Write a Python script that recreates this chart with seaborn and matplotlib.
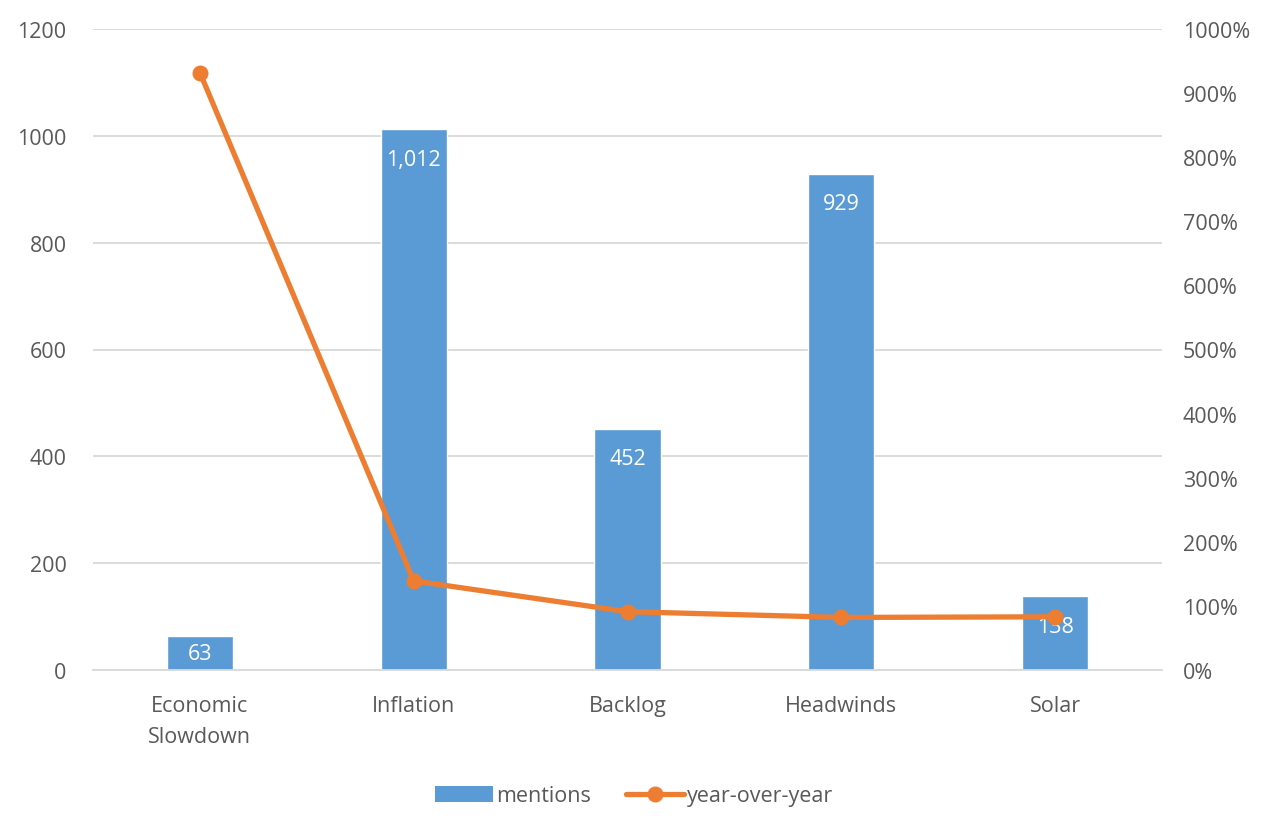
import matplotlib
matplotlib.use("Agg")
import matplotlib.pyplot as plt
import seaborn as sns
import pandas as pd
from matplotlib.ticker import FuncFormatter, MultipleLocator
from matplotlib.patches import Patch
from matplotlib.lines import Line2D

categories = ["Economic\nSlowdown", "Inflation", "Backlog", "Headwinds", "Solar"]
mentions = [63, 1012, 452, 929, 138]
yoy_pct = [932, 139, 91, 82, 83]

BLUE = "#5B9BD5"
ORANGE = "#ED7D31"
GRAY = "#595959"
GRID = "#D9D9D9"
FS = 15.5

sns.set_theme(style="white")
plt.rcParams["font.family"] = ["Open Sans", "DejaVu Sans"]

df = pd.DataFrame({"category": categories, "mentions": mentions, "yoy": yoy_pct})

fig = plt.figure(figsize=(12.69, 8.28), dpi=100)
ax = fig.add_axes([93/1269, 1-671/828, (1162-93)/1269, (671-30)/828])

sns.barplot(data=df, x="category", y="mentions", color=BLUE, width=0.31,
            saturation=1, ax=ax, zorder=2)
ax.set_ylim(0, 1200)
ax.set_xlim(-0.5, 4.5)
ax.yaxis.set_major_locator(MultipleLocator(200))
ax.grid(axis="y", color=GRID, linewidth=1.3, zorder=0)
ax.set_axisbelow(True)
for s in ["top", "right", "left"]:
    ax.spines[s].set_visible(False)
ax.spines["bottom"].set_color(GRID)
ax.spines["bottom"].set_linewidth(1.3)
ax.set_xlabel("")
ax.set_ylabel("")
ax.tick_params(axis="both", length=0, labelsize=FS, labelcolor=GRAY)
ax.tick_params(axis="x", pad=18)
ax.tick_params(axis="y", pad=19)
for t in ax.get_xticklabels():
    t.set_linespacing(1.6)

# data labels inside end
fig.canvas.draw()
for i, v in enumerate(mentions):
    y0 = ax.transData.transform((i, 0))[1]
    y1 = ax.transData.transform((i, v))[1]
    h = y1 - y0
    off = min(30, h / 2)
    ax.annotate(f"{v:,}", xy=(i, v), xytext=(0, -off * 72 / 100),
                textcoords="offset points", ha="center", va="center",
                color="white", fontsize=FS, zorder=5)

ax2 = ax.twinx()
sns.lineplot(x=list(range(len(categories))), y=yoy_pct, ax=ax2, color=ORANGE,
             linewidth=3.8, marker="o", markersize=11.5, markeredgewidth=0,
             zorder=4)
ax2.set_ylim(0, 1000)
ax2.yaxis.set_major_locator(MultipleLocator(100))
ax2.yaxis.set_major_formatter(FuncFormatter(lambda v, p: f"{int(v)}%"))
for s in ["top", "right", "left", "bottom"]:
    ax2.spines[s].set_visible(False)
ax2.tick_params(axis="y", length=0, labelsize=FS, labelcolor=GRAY, pad=15)
ax2.grid(False)

handles = [Patch(facecolor=BLUE, edgecolor="none"),
           Line2D([0], [0], color=ORANGE, linewidth=3.8, marker="o",
                  markersize=11.5, markeredgewidth=0)]
fig.legend(handles, ["mentions", "year-over-year"], loc="center",
           bbox_to_anchor=(634/1269, 1-797/828), ncol=2, frameon=False,
           fontsize=FS, labelcolor=GRAY, handlelength=2.7, handleheight=0.8,
           handletextpad=0.15, columnspacing=1.6)

fig.savefig("out.png", dpi=100)
